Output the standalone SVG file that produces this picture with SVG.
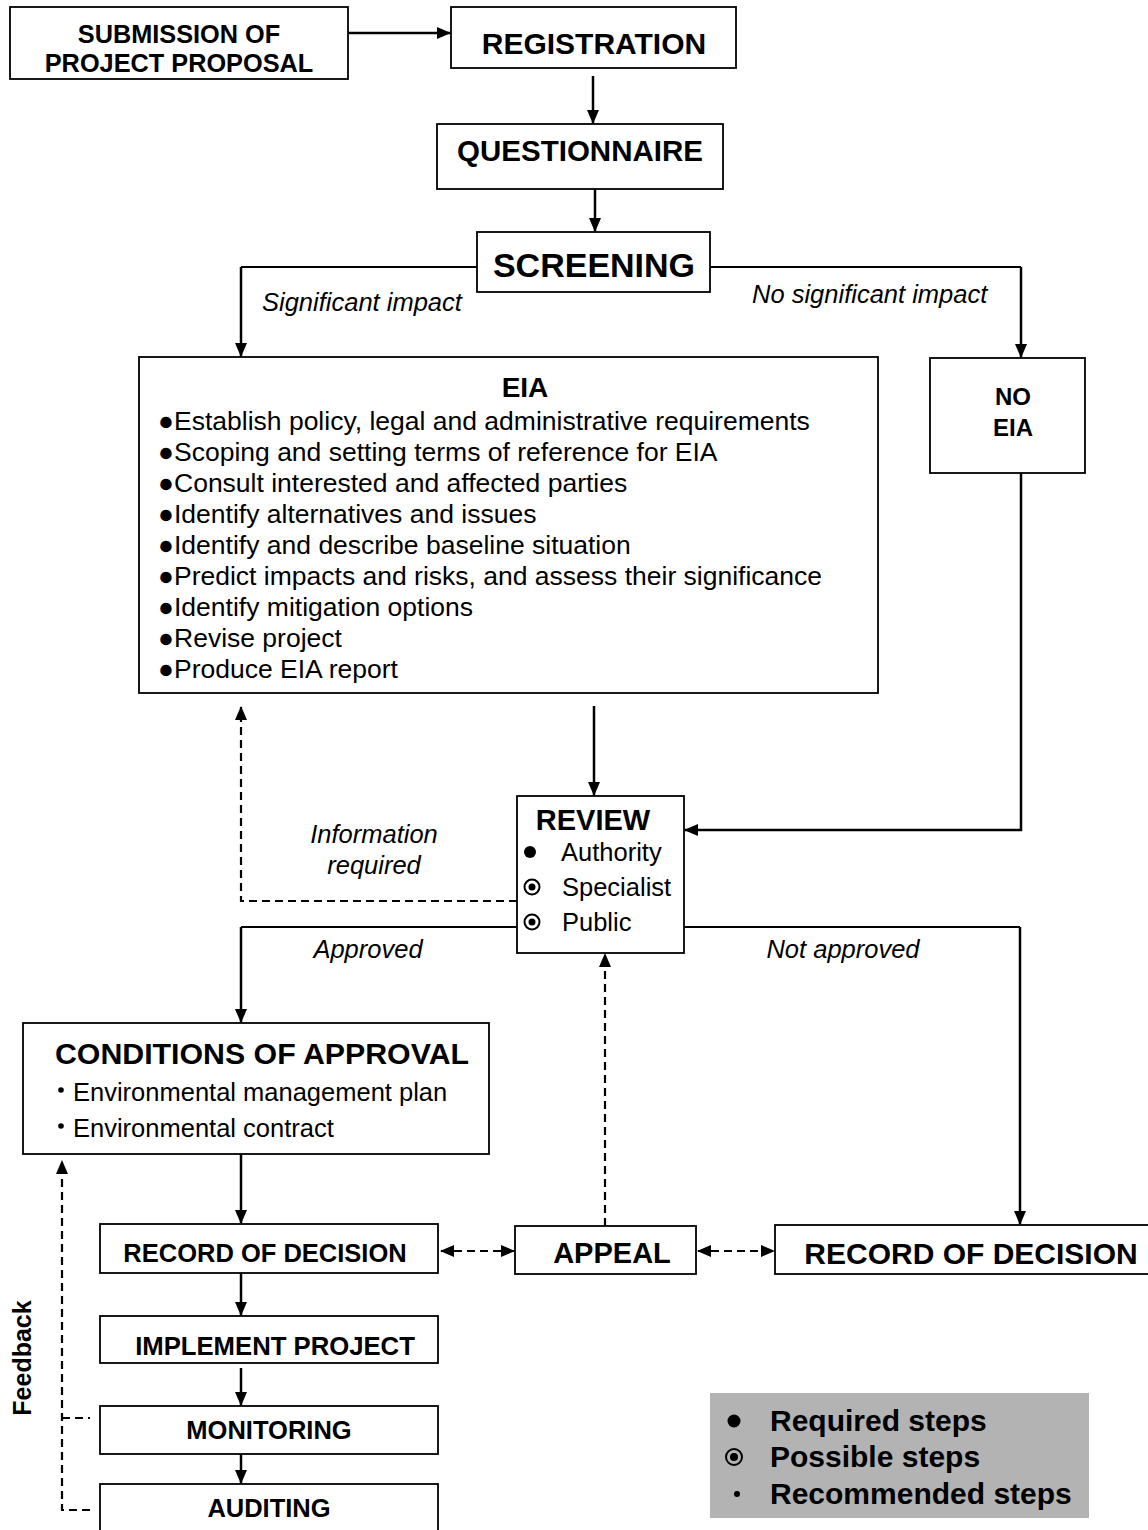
<svg xmlns="http://www.w3.org/2000/svg" width="1148" height="1530" viewBox="0 0 1148 1530">
<style>
text{font-family:"Liberation Sans",Arial,sans-serif;fill:#000}
.b{font-weight:bold}
.i{font-style:italic}
.box{fill:#fff;stroke:#000;stroke-width:1.8}
.c{fill:none;stroke:#000;stroke-width:2.5}
.t{fill:none;stroke:#000;stroke-width:1.8}
.d{fill:none;stroke:#000;stroke-width:2.2;stroke-dasharray:8 5}
.m{text-anchor:middle}
</style>
<defs>
<marker id="ah" markerUnits="userSpaceOnUse" markerWidth="14" markerHeight="12" refX="13" refY="6" orient="auto-start-reverse">
<path d="M0,0 L14,6 L0,12 z" fill="#000"/>
</marker>
</defs>
<rect width="1148" height="1530" fill="#fff"/>

<g id="connectors">
<path class="c" d="M348 33 H450" marker-end="url(#ah)"/>
<path class="c" d="M593 76 V123" marker-end="url(#ah)"/>
<path class="c" d="M595 189 V231" marker-end="url(#ah)"/>
<path class="t" d="M477 267 H241"/>
<path class="c" d="M241 267 V356" marker-end="url(#ah)"/>
<path class="t" d="M710 267 H1021"/>
<path class="c" d="M1021 267 V357" marker-end="url(#ah)"/>
<path class="c" d="M594 706 V795" marker-end="url(#ah)"/>
<path class="c" d="M1021 473 V830 H685" marker-end="url(#ah)"/>
<path class="d" d="M517 901 H241 V707" marker-end="url(#ah)"/>
<path class="t" d="M517 927 H241"/>
<path class="c" d="M241 927 V1022" marker-end="url(#ah)"/>
<path class="t" d="M684 927 H1020"/>
<path class="c" d="M1020 927 V1224" marker-end="url(#ah)"/>
<path class="c" d="M241 1154 V1223" marker-end="url(#ah)"/>
<path class="d" d="M441 1251 H514" marker-start="url(#ah)" marker-end="url(#ah)"/>
<path class="d" d="M698 1251 H774" marker-start="url(#ah)" marker-end="url(#ah)"/>
<path class="d" d="M605 1226 V954" marker-end="url(#ah)"/>
<path class="c" d="M241 1273 V1315" marker-end="url(#ah)"/>
<path class="c" d="M241 1368 V1405" marker-end="url(#ah)"/>
<path class="c" d="M241 1454 V1483" marker-end="url(#ah)"/>
<path class="d" d="M90 1510 H62 V1161" marker-end="url(#ah)"/>
<path class="d" d="M62 1418 H90"/>
<text class="i" x="262" y="311" font-size="25.5">Significant impact</text>
<text class="i" x="752" y="303" font-size="25.5">No significant impact</text>
<text class="i m" x="374" y="843" font-size="25.5">Information</text>
<text class="i m" x="374" y="874" font-size="25.5">required</text>
<text class="i m" x="368" y="958" font-size="25.5">Approved</text>
<text class="i m" x="843" y="958" font-size="25.5">Not approved</text>
<text class="b m" x="31" y="1358" font-size="25" transform="rotate(-90 31 1358)">Feedback</text>
</g>

<g id="submission">
<rect class="box" x="10" y="7" width="338" height="72"/>
<text class="b m" x="179" y="43" font-size="25.3">SUBMISSION OF</text>
<text class="b m" x="179" y="72" font-size="25.3">PROJECT PROPOSAL</text>
</g>

<g id="registration">
<rect class="box" x="451" y="7" width="285" height="61"/>
<text class="b m" x="594" y="54" font-size="30">REGISTRATION</text>
</g>

<g id="questionnaire">
<rect class="box" x="437" y="124" width="286" height="65"/>
<text class="b m" x="580" y="161" font-size="29.5">QUESTIONNAIRE</text>
</g>

<g id="screening">
<rect class="box" x="477" y="232" width="233" height="60"/>
<text class="b m" x="594" y="277" font-size="34">SCREENING</text>
</g>

<g id="eia">
<rect class="box" x="139" y="357" width="739" height="336"/>
<text class="b m" x="525" y="397" font-size="28">EIA</text>
<g font-size="26.5">
<text x="158" y="430">●Establish policy, legal and administrative requirements</text>
<text x="158" y="461">●Scoping and setting terms of reference for EIA</text>
<text x="158" y="492">●Consult interested and affected parties</text>
<text x="158" y="523">●Identify alternatives and issues</text>
<text x="158" y="554">●Identify and describe baseline situation</text>
<text x="158" y="585">●Predict impacts and risks, and assess their significance</text>
<text x="158" y="616">●Identify mitigation options</text>
<text x="158" y="647">●Revise project</text>
<text x="158" y="678">●Produce EIA report</text>
</g>
</g>

<g id="no-eia">
<rect class="box" x="930" y="358" width="155" height="115"/>
<text class="b m" x="1013" y="405" font-size="24">NO</text>
<text class="b m" x="1013" y="436" font-size="24">EIA</text>
</g>

<g id="review">
<rect class="box" x="517" y="796" width="167" height="157"/>
<text class="b m" x="593" y="830" font-size="29">REVIEW</text>
<circle cx="530" cy="852" r="6" fill="#000"/>
<circle cx="532" cy="887" r="7.5" fill="none" stroke="#000" stroke-width="2"/>
<circle cx="532" cy="887" r="3.5" fill="#000"/>
<circle cx="532" cy="922" r="7.5" fill="none" stroke="#000" stroke-width="2"/>
<circle cx="532" cy="922" r="3.5" fill="#000"/>
<text x="561" y="861" font-size="25.5">Authority</text>
<text x="562" y="896" font-size="25.5">Specialist</text>
<text x="562" y="931" font-size="25.5">Public</text>
</g>

<g id="conditions">
<rect class="box" x="23" y="1023" width="466" height="131"/>
<text class="b m" x="262" y="1064" font-size="30.3">CONDITIONS OF APPROVAL</text>
<circle cx="61" cy="1090" r="2.8" fill="#000"/>
<circle cx="61" cy="1126" r="2.8" fill="#000"/>
<text x="73" y="1101" font-size="25.5">Environmental management plan</text>
<text x="73" y="1137" font-size="25.5">Environmental contract</text>
</g>

<g id="record-left">
<rect class="box" x="100" y="1224" width="338" height="49"/>
<text class="b m" x="265" y="1262" font-size="25.5">RECORD OF DECISION</text>
</g>

<g id="appeal">
<rect class="box" x="515" y="1226" width="181" height="48"/>
<text class="b m" x="612" y="1263" font-size="29">APPEAL</text>
</g>

<g id="record-right">
<rect class="box" x="775" y="1225" width="385" height="49"/>
<text class="b m" x="971" y="1264" font-size="30">RECORD OF DECISION</text>
</g>

<g id="implement">
<rect class="box" x="100" y="1316" width="338" height="47"/>
<text class="b m" x="275" y="1355" font-size="25.7">IMPLEMENT PROJECT</text>
</g>

<g id="monitoring">
<rect class="box" x="100" y="1406" width="338" height="48"/>
<text class="b m" x="269" y="1439" font-size="25.5">MONITORING</text>
</g>

<g id="auditing">
<rect class="box" x="100" y="1484" width="338" height="60"/>
<text class="b m" x="269" y="1517" font-size="25.5">AUDITING</text>
</g>

<g id="legend">
<rect x="710" y="1393" width="379" height="125" fill="#b3b3b3"/>
<circle cx="734" cy="1421" r="6.5" fill="#000"/>
<circle cx="734" cy="1457" r="8" fill="none" stroke="#000" stroke-width="2"/>
<circle cx="734" cy="1457" r="4" fill="#000"/>
<circle cx="737" cy="1494" r="3" fill="#000"/>
<text class="b" x="770" y="1431" font-size="30">Required steps</text>
<text class="b" x="770" y="1467" font-size="30">Possible steps</text>
<text class="b" x="770" y="1504" font-size="30">Recommended steps</text>
</g>
</svg>
